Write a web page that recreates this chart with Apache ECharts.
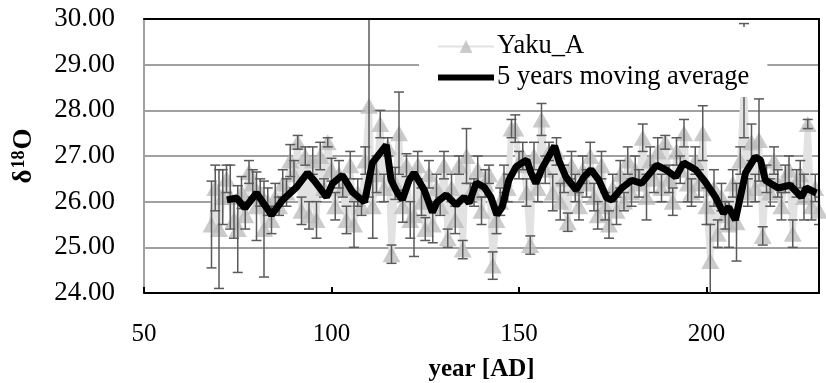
<!DOCTYPE html>
<html>
<head>
<meta charset="utf-8">
<script src="https://cdn.jsdelivr.net/npm/echarts@6/dist/echarts.min.js"></script>
<style>
  html, body { margin: 0; padding: 0; background: #fff; }
  #chart { width: 826px; height: 383px; }
</style>
</head>
<body>
<div id="chart"></div>
<script>
var FONT = 'Liberation Serif, Times New Roman, serif'

// x axis / y axis ticks
var xTicks = [50, 100, 150, 200]
var yTicks = [24, 25, 26, 27, 28, 29, 30]

// Yaku_A measurements (year, value, error)
var yakuYears = [68, 69, 70, 71, 72, 73, 74, 75, 76, 77, 78, 79, 80, 81, 82, 83, 84, 85, 86, 87,
  88, 89, 90, 91, 92, 93, 94, 95, 96, 97, 98, 99, 100, 101, 102, 103, 104, 105, 106, 107,
  108, 109, 110, 111, 112, 113, 114, 115, 116, 117, 118, 119, 120, 121, 122, 123, 124, 125, 126, 127,
  128, 129, 130, 131, 132, 133, 134, 135, 136, 137, 138, 139, 140, 141, 142, 143, 144, 145, 146, 147,
  148, 149, 150, 151, 152, 153, 154, 155, 156, 157, 158, 159, 160, 161, 162, 163, 164, 165, 166, 167,
  168, 169, 170, 171, 172, 173, 174, 175, 176, 177, 178, 179, 180, 181, 182, 183, 184, 185, 186, 187,
  188, 189, 190, 191, 192, 193, 194, 195, 196, 197, 198, 199, 200, 201, 202, 203, 204, 205, 206, 207,
  208, 209, 210, 211, 212, 213, 214, 215, 216, 217, 218, 219, 220, 221, 222, 223, 224, 225, 226, 227,
  228, 229, 230]
var yakuValues = [25.5, 26.3, 25.4, 26.1, 26.5, 26.1, 25.6, 25.4, 26.2, 25.7, 26.65, 26.4, 25.9, 26.2, 25.4, 26.0, 25.6, 26.1, 25.9, 26.4,
  26.2, 26.9, 26.6, 27.3, 25.8, 27.0, 25.7, 26.9, 25.6, 27.0, 26.3, 27.3, 26.7, 25.9, 26.6, 26.3, 25.6, 26.8, 25.5, 26.2,
  25.9, 26.9, 28.1, 25.9, 26.6, 27.7, 26.3, 27.2, 24.85, 26.4, 27.5, 25.9, 26.8, 25.6, 25.7, 26.8, 26.0, 25.4, 26.6, 25.5,
  26.3, 25.9, 26.8, 25.2, 26.3, 25.6, 26.8, 24.95, 27.0, 26.2, 26.2, 26.7, 25.8, 26.4, 26.6, 24.6, 25.6, 26.0, 26.5, 26.3,
  27.6, 27.6, 26.8, 27.0, 26.2, 25.05, 27.0, 26.3, 27.8, 26.7, 27.1, 26.2, 27.1, 26.0, 26.5, 25.55, 26.8, 26.3, 25.9, 26.7,
  26.4, 27.0, 26.1, 25.7, 26.8, 25.9, 25.5, 26.3, 25.8, 26.6, 26.0, 26.9, 26.2, 26.7, 26.4, 27.4, 26.1, 26.9, 26.5, 27.1,
  26.3, 27.3, 26.5, 26.0, 27.1, 26.7, 27.5, 26.4, 26.2, 26.9, 26.4, 27.5, 25.9, 24.7, 26.3, 25.3, 26.1, 25.7, 25.5, 26.4,
  25.55, 26.9, 28.65, 26.2, 27.3, 26.3, 27.35, 25.25, 26.5, 26.2, 26.9, 26.4, 25.9, 26.5, 26.7, 25.3, 26.4, 26.6, 26.1, 27.7,
  25.9, 26.3, 25.8]
var yakuErrors = [0.95, 0.5, 1.3, 0.6, 0.3, 0.7, 0.4, 0.95, 0.35, 0.3, 0.25, 0.3, 0.75, 0.3, 1.05, 0.3, 0.3, 0.3, 0.2, 0.3,
  0.3, 0.35, 0.3, 0.15, 0.3, 0.2, 0.3, 0.3, 0.4, 0.3, 0.2, 0.1, 0.25, 0.3, 0.3, 0.2, 0.3, 0.3, 0.5, 0.3,
  0.2, 0.3, 2.0, 0.7, 0.4, 0.3, 0.3, 0.2, 0.2, 0.35, 0.9, 0.35, 0.25, 0.4, 0.9, 0.3, 0.3, 0.25, 0.3, 0.4,
  0.3, 0.2, 0.3, 0.2, 0.3, 0.3, 0.2, 0.2, 0.6, 0.2, 0.3, 0.3, 0.3, 0.3, 0.2, 0.3, 0.3, 0.3, 0.3, 0.3,
  0.2, 0.3, 0.3, 0.3, 0.3, 0.2, 0.3, 0.3, 0.35, 0.3, 0.2, 0.4, 0.3, 0.4, 0.3, 0.2, 0.3, 0.3, 0.3, 0.3,
  0.3, 0.3, 0.3, 0.3, 0.3, 0.3, 0.3, 0.3, 0.3, 0.3, 0.2, 0.3, 0.3, 0.3, 0.3, 0.3, 0.5, 0.3, 0.3, 0.3,
  0.3, 0.15, 0.3, 0.3, 0.3, 0.3, 0.3, 0.4, 0.3, 0.3, 0.3, 0.6, 0.4, 0.8, 0.4, 0.3, 0.3, 0.3, 0.5, 0.3,
  0.85, 0.3, 1.25, 0.3, 0.4, 0.3, 0.9, 0.2, 0.3, 0.3, 0.3, 0.3, 0.3, 0.3, 0.3, 0.3, 0.3, 0.3, 0.5, 0.1,
  0.3, 0.3, 0.3]

// 5 years moving average (traced)
var maYears = [72.1, 74.7, 76.9, 80.0, 84.0, 87.0, 90.7, 93.6, 95.5, 98.7, 100.3, 102.9, 105.6, 108.8, 110.9,
  114.6, 115.9, 117.6, 118.9, 120.7, 122.0, 124.7, 126.9, 128.2, 130.6, 131.9, 133.2, 135.4, 136.7, 138.6,
  140.7, 142.5, 144.1, 145.5, 147.3, 149.2, 150.8, 152.1, 153.2, 154.5, 156.2, 159.5, 160.6, 162.5, 165.2,
  167.3, 169.2, 171.3, 173.4, 174.8, 177.4, 180.1, 182.7, 186.7, 189.1, 191.8, 193.9, 197.1, 199.7, 202.4,
  204.5, 205.9, 207.7, 210.4, 213.0, 214.4, 215.7, 219.1, 222.3, 225.3, 226.6, 229.3]
var maValues = [26.04, 26.08, 25.86, 26.19, 25.71, 26.04, 26.32, 26.63, 26.45, 26.1, 26.4, 26.58, 26.21, 25.99, 26.85,
  27.24, 26.47, 26.19, 26.04, 26.47, 26.63, 26.26, 25.77, 26.0, 26.15, 26.04, 25.93, 26.1, 25.97, 26.41,
  26.32, 26.1, 25.71, 25.88, 26.47, 26.76, 26.85, 26.91, 26.63, 26.4, 26.74, 27.22, 26.91, 26.54, 26.26,
  26.54, 26.7, 26.47, 26.08, 26.04, 26.3, 26.47, 26.4, 26.8, 26.7, 26.54, 26.85, 26.7, 26.43, 26.1,
  25.75, 25.88, 25.6, 26.63, 26.98, 26.91, 26.47, 26.3, 26.36, 26.1, 26.3, 26.19]

var yakuData = yakuYears.map(function (y, i) { return [y, yakuValues[i]] })
var errData = yakuYears.map(function (y, i) {
  return [y, yakuValues[i] - yakuErrors[i], yakuValues[i] + yakuErrors[i]]
})
var maData = maYears.map(function (y, i) { return [y, maValues[i]] })

var chart = echarts.init(document.getElementById('chart'))

chart.setOption({
  animation: false,
  textStyle: { fontFamily: FONT },
  grid: {
    left: 144,
    right: 7,
    top: 19,
    bottom: 90,
    outerBoundsMode: 'none'
  },
  legend: {
    data: [
      { name: 'Yaku_A' },
      { name: '5 years moving average', icon: 'path://M0,0L56,0L56,6L0,6Z' }
    ],
    orient: 'vertical',
    left: 419,
    top: 27,
    padding: [6, 18, 6, 18],
    itemGap: 4,
    itemWidth: 56,
    itemHeight: 16,
    backgroundColor: '#fff',
    textStyle: { fontFamily: FONT, fontSize: 26.5, color: '#000', padding: [0, 0, 0, -2] }
  },
  xAxis: [
    {
      type: 'value',
      min: 50,
      max: 230,
      interval: 50,
      name: 'year [AD]',
      nameLocation: 'middle',
      nameGap: 64,
      nameTextStyle: { fontFamily: FONT, fontSize: 25, fontWeight: 'bold', color: '#000' },
      axisLine: { lineStyle: { color: '#000', width: 2 } },
      axisTick: { inside: true, length: 6, lineStyle: { color: '#000', width: 2 } },
      axisLabel: {
        margin: 29,
        fontFamily: FONT,
        fontSize: 25,
        color: '#000',
        showMaxLabel: false,
        formatter: function (v) { return xTicks.indexOf(v) >= 0 ? String(v) : '' }
      },
      splitLine: { show: false }
    },
    {
      // top frame
      type: 'value',
      position: 'top',
      min: 50,
      max: 230,
      z: 10,
      axisLine: { show: true, lineStyle: { color: '#000', width: 2 } },
      axisTick: { show: false },
      axisLabel: { show: false },
      splitLine: { show: false }
    }
  ],
  yAxis: [
    {
      type: 'value',
      min: yTicks[0],
      max: yTicks[yTicks.length - 1],
      interval: 1,
      name: '{a|δ}{s|18}{a|O}',
      nameLocation: 'middle',
      nameGap: 106,
      nameRotate: 90,
      nameTextStyle: {
        rich: {
          a: { fontFamily: FONT, fontSize: 27, fontWeight: 'bold', color: '#000' },
          s: { fontFamily: FONT, fontSize: 18, fontWeight: 'bold', color: '#000', verticalAlign: 'top', padding: [0, 1, 10, 1] }
        }
      },
      axisLine: { show: true, lineStyle: { color: '#a0a0a0', width: 2 } },
      axisTick: { show: false },
      axisLabel: {
        margin: 29,
        fontFamily: FONT,
        fontSize: 27,
        color: '#000',
        formatter: function (v) { return v.toFixed(2) }
      },
      splitLine: { lineStyle: { color: '#a0a0a0', width: 2 } }
    },
    {
      // right frame
      type: 'value',
      position: 'right',
      min: yTicks[0],
      max: yTicks[yTicks.length - 1],
      z: 10,
      axisLine: { show: true, lineStyle: { color: '#000', width: 2 } },
      axisTick: { show: false },
      axisLabel: { show: false },
      splitLine: { show: false }
    }
  ],
  series: [
    {
      name: 'Yaku_A',
      type: 'line',
      data: yakuData,
      symbol: 'triangle',
      symbolSize: [18, 16],
      lineStyle: { color: '#e2e2e2', width: 6 },
      itemStyle: { color: 'rgba(185,185,185,0.75)' },
      z: 2
    },
    {
      name: 'err',
      type: 'custom',
      data: errData,
      clip: true,
      z: 3,
      renderItem: function (params, api) {
        var x = api.value(0)
        var top = api.coord([x, api.value(2)])
        var bot = api.coord([x, api.value(1)])
        var w = 5
        var st = { stroke: '#5a5a5a', lineWidth: 1.5 }
        return {
          type: 'group',
          children: [
            { type: 'line', shape: { x1: top[0], y1: top[1], x2: bot[0], y2: bot[1] }, style: st },
            { type: 'line', shape: { x1: top[0] - w, y1: top[1], x2: top[0] + w, y2: top[1] }, style: st },
            { type: 'line', shape: { x1: bot[0] - w, y1: bot[1], x2: bot[0] + w, y2: bot[1] }, style: st }
          ]
        }
      }
    },
    {
      name: '5 years moving average',
      type: 'line',
      data: maData,
      symbol: 'none',
      lineStyle: { color: '#000', width: 7 },
      itemStyle: { color: '#000' },
      z: 4
    }
  ]
})
</script>
</body>
</html>
